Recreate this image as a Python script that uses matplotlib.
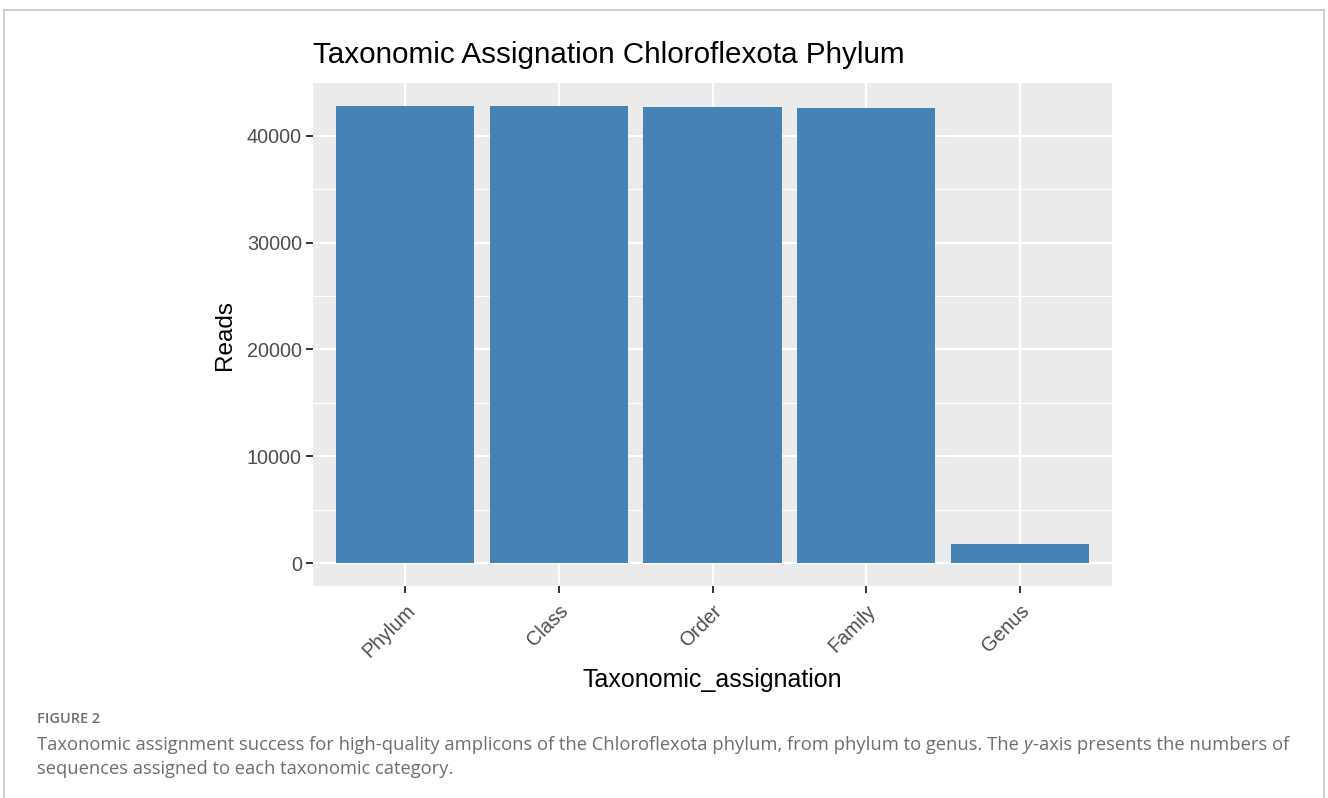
import matplotlib
matplotlib.use("Agg")
import matplotlib.pyplot as plt
from matplotlib.lines import Line2D
import numpy as np

categories = ["Phylum", "Class", "Order", "Family", "Genus"]
reads = [42800, 42770, 42700, 42580, 1770]
y_ticks = [0, 10000, 20000, 30000, 40000]
y_minor = [5000, 15000, 25000, 35000]

title = "Taxonomic Assignation Chloroflexota Phylum"
xlabel = "Taxonomic_assignation"
ylabel = "Reads"
fig_label = "FIGURE 2"
caption_line1_parts = [
    ("Taxonomic assignment success for high-quality amplicons of the Chloroflexota phylum, from phylum to genus. The ", "normal"),
    ("y", "italic"),
    ("-axis presents the numbers of", "normal"),
]
caption_line2 = "sequences assigned to each taxonomic category."

W, H = 1328, 798
fig = plt.figure(figsize=(W / 100, H / 100), dpi=100)
fig.patch.set_facecolor("white")

L, R, T, B = 313, 1112, 83, 586
ax = fig.add_axes([L / W, 1 - B / H, (R - L) / W, (B - T) / H])
ax.set_facecolor("#EBEBEB")
for s in ax.spines.values():
    s.set_visible(False)

x = np.arange(1, len(categories) + 1)
ymax = max(reads)
pad = 0.05 * ymax
ax.set_ylim(-pad, ymax + pad)
ax.set_xlim(0.4, len(categories) + 0.6)

for yv in y_minor:
    ax.axhline(yv, color="white", lw=0.8, zorder=0)
for yv in y_ticks:
    ax.axhline(yv, color="white", lw=1.6, zorder=0)
for xv in x:
    ax.axvline(xv, color="white", lw=1.6, zorder=0)

ax.bar(x, reads, width=0.9, color="#4682B4", zorder=2)

font = "Liberation Sans"
ax.set_yticks(y_ticks)
ax.set_yticklabels([str(v) for v in y_ticks], fontsize=14.2, color="#4D4D4D", family=font)
ax.set_xticks(x)
ax.set_xticklabels(categories, fontsize=14.2, color="#4D4D4D", family=font,
                   rotation=45, ha="right", va="top", rotation_mode="anchor")
ax.tick_params(axis="both", length=5, width=1.4, color="#333333", pad=3)
ax.tick_params(axis="x", pad=6)

ax.set_ylabel(ylabel, fontsize=17.5, family=font, labelpad=8)
ax.set_xlabel(xlabel, fontsize=18, family=font, labelpad=5)

fig.text(L / W, 1 - 55 / H, title, fontsize=21.3, family=font, ha="left", va="center")

# page frame
frame_c = "#C8C8C8"
fig.add_artist(Line2D([4 / W, 4 / W], [0, 1 - 9.5 / H], transform=fig.transFigure, color=frame_c, lw=1.2))
fig.add_artist(Line2D([4 / W, 1324 / W], [1 - 9.5 / H, 1 - 9.5 / H], transform=fig.transFigure, color=frame_c, lw=1.2))
fig.add_artist(Line2D([1324 / W, 1324 / W], [0, 1 - 9.5 / H], transform=fig.transFigure, color=frame_c, lw=1.2))

cap_font = ["Open Sans", "DejaVu Sans"]
cap_color = "#6E6E6E"
cap_size = 13.25
fig.text(37 / W, 1 - 719 / H, fig_label, fontsize=10.5, family=cap_font, weight="semibold",
         color=cap_color, ha="left", va="center")

renderer = fig.canvas.get_renderer()
xpos = 37.0
y1 = 1 - 745 / H
for txt, style in caption_line1_parts:
    t = fig.text(xpos / W, y1, txt, fontsize=cap_size, family=cap_font, style=style,
                 color=cap_color, ha="left", va="baseline" if False else "center")
    bb = t.get_window_extent(renderer=renderer)
    xpos = bb.x1 + (0.5 if style == "italic" else 0.0)
fig.text(37 / W, 1 - 769 / H, caption_line2, fontsize=cap_size, family=cap_font,
         color=cap_color, ha="left", va="center")

fig.savefig("out.png", dpi=100)
